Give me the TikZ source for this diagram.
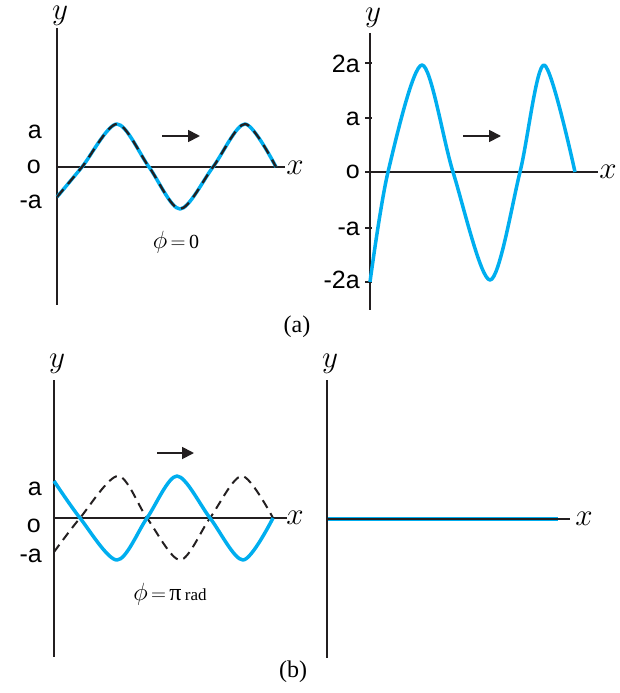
\documentclass[tikz,border=0pt]{standalone}
\usepackage{fontspec}
\setmainfont{Liberation Serif}
\setsansfont{Liberation Sans}
\usepackage{xcolor}
\definecolor{cWave}{HTML}{00AEEF}
\definecolor{cInk}{HTML}{231F20}
\usepackage{tikz}
\usetikzlibrary{arrows.meta}
\newcommand{\axvar}[1]{\scalebox{1.25}{$#1$}}
\tikzset{
  axis-line/.style={draw=cInk,line width=1.8pt},
  lbl-axis/.style={inner sep=0pt,font=\fontsize{24.88}{25}\selectfont},
  lbl-tick/.style={inner sep=0pt,anchor=base east,font=\sffamily\fontsize{25}{25}\selectfont},
  lbl-phase/.style={inner sep=0pt,font=\fontsize{20}{20}\selectfont},
  lbl-panel/.style={inner sep=0pt,font=\fontsize{24}{24}\selectfont},
  wave/.style={draw=cWave,line width=3.5pt,line join=round},
  wave-dash/.style={draw=cInk,line width=2.3pt,dash pattern=on 10pt off 7pt},
  arrow/.style={-{Triangle[length=12pt,width=12pt]},line width=1.8pt,draw=cInk},
}

\begin{document}
\begin{tikzpicture}[x=1pt,y=-1pt]
  \useasboundingbox (0,0) rectangle (619,693);
  % (a) left: two waves in phase
  \draw[axis-line] (57,28) -- (57,305);
  \draw[axis-line] (57,167) -- (285,167);
  \node[lbl-axis] (yA) at (60,16) {\axvar{y}};
  \node[lbl-axis] (xA) at (295,168) {\axvar{x}};
  \node[lbl-tick] (tA1) at (42,138) {a};
  \node[lbl-tick] (tA2) at (41,173) {o};
  \node[lbl-tick] (tA3) at (42,208) {-a};
  \draw[wave] plot[smooth] coordinates {(57,197) (82,167) (117,124) (149,167)
    (180,209) (213,167) (245,124) (276,167)};
  \draw[wave-dash] plot[smooth] coordinates {(57,197) (82,167) (117,124) (149,167)
    (180,209) (213,167) (245,124) (276,167)};
  \coordinate (arA) at (162,136);
  \coordinate (arA') at (200,136);
  \draw[arrow] (arA) -- (arA');
  \node[lbl-phase] (phA) at (176,242) {{\fontsize{24}{24}\selectfont$\phi$}\,$=$\,0};

  % (a) right: resultant, amplitude 2a
  \draw[axis-line] (370,33) -- (370,310);
  \draw[axis-line] (370,172) -- (598,172);
  \node[lbl-axis] (yB) at (373,18) {\axvar{y}};
  \node[lbl-axis] (xB) at (608,172) {\axvar{x}};
  \foreach \yy/\bl/\txt in {63/72/2a,118/125/a,172/178/o,228/235/-a,282/288/-2a}{
    \draw[axis-line] (365,\yy) -- (372,\yy);
    \node[lbl-tick] at (360,\bl) {\txt};
  }
  \draw[wave] plot[smooth] coordinates {(370,282) (388,172) (422,65) (453,172)
    (490,280) (520,172) (544,65) (575,172)};
  \coordinate (arB) at (463,136);
  \coordinate (arB') at (501,136);
  \draw[arrow] (arB) -- (arB');
  \node[lbl-panel] (capA) at (297,327) {(a)};

  % (b) left: waves out of phase by pi
  \draw[axis-line] (54,380) -- (54,657);
  \draw[axis-line] (54,518) -- (287,518);
  \node[lbl-axis] (yC) at (57,364) {\axvar{y}};
  \node[lbl-axis] (xC) at (295,518) {\axvar{x}};
  \node[lbl-tick] (tC1) at (42,495) {a};
  \node[lbl-tick] (tC2) at (41,532) {o};
  \node[lbl-tick] (tC3) at (42,562) {-a};
  \draw[wave-dash,line width=2pt,dash pattern=on 9pt off 6pt] plot[smooth]
    coordinates {(54,552) (80,518) (118,476) (147,518) (180,560) (210,518)
    (242,476) (273,518)};
  \draw[wave] plot[smooth] coordinates {(54,481) (80,518) (117,560) (147,518)
    (177,476) (210,518) (243,560) (273,518)};
  \coordinate (arC) at (157,453);
  \coordinate (arC') at (194,453);
  \draw[arrow] (arC) -- (arC');
  \node[lbl-phase] (phC) at (170,594) {{\fontsize{24}{24}\selectfont$\phi$}\,$=$\,{\fontsize{24}{24}\selectfont π}\,{\fontsize{17}{17}\selectfont rad}};

  % (b) right: resultant is zero
  \draw[wave] (327,519) -- (558,519);
  \draw[axis-line] (327,380) -- (327,658);
  \draw[axis-line,line width=1.4pt] (327,519) -- (570,519);
  \node[lbl-axis] (yD) at (330,364) {\axvar{y}};
  \node[lbl-axis] (xD) at (584,519) {\axvar{x}};
  \node[lbl-panel] (capB) at (293,672) {(b)};
\end{tikzpicture}
\end{document}
